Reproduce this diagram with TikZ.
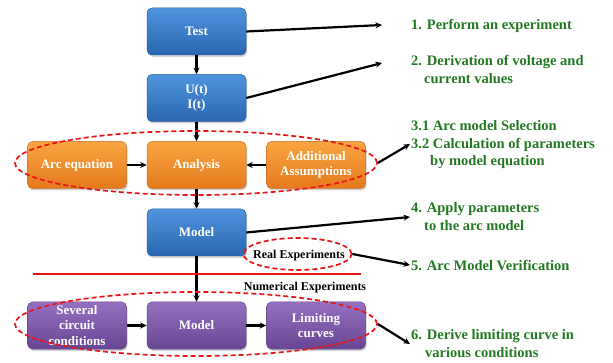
\documentclass[tikz,border=0pt]{standalone}
\usepackage{fontspec}
\setmainfont{Liberation Serif}
\usetikzlibrary{shapes.geometric,arrows.meta,shadows}
\definecolor{bluetop}{RGB}{80,148,222}
\definecolor{bluebot}{RGB}{42,102,178}
\definecolor{blueedge}{RGB}{40,90,160}
\definecolor{orangetop}{RGB}{250,165,65}
\definecolor{orangebot}{RGB}{228,122,30}
\definecolor{orangeedge}{RGB}{205,110,30}
\definecolor{purpletop}{RGB}{150,112,192}
\definecolor{purplebot}{RGB}{104,70,148}
\definecolor{purpleedge}{RGB}{95,65,135}
\definecolor{stepgreen}{RGB}{36,120,36}
\definecolor{dashred}{RGB}{235,20,20}
\begin{document}
\begin{tikzpicture}[x=1pt,y=-1pt,
  boxbase/.style={rounded corners=5pt, minimum width=99pt, minimum height=47pt,
    text=white, align=center, inner sep=2pt,
    font=\bfseries\fontsize{13}{15.5}\selectfont,
    drop shadow={opacity=0.35, shadow xshift=1pt, shadow yshift=-2pt}},
  bluebox/.style={boxbase, draw=blueedge, line width=0.5pt, top color=bluetop, bottom color=bluebot},
  orangebox/.style={boxbase, draw=orangeedge, line width=0.5pt, top color=orangetop, bottom color=orangebot},
  purplebox/.style={boxbase, draw=purpleedge, line width=0.5pt, top color=purpletop, bottom color=purplebot},
  redoval/.style={ellipse, draw=dashred, line width=1.7pt, dash pattern=on 5pt off 3pt, inner sep=0pt},
  flow/.style={line width=2.2pt, -{Stealth[length=6.5pt,width=6pt]}},
  steptext/.style={anchor=north west, inner sep=0pt, align=left, text=stepgreen,
    font=\bfseries\fontsize{14.5}{17.5}\selectfont},
  labeltext/.style={inner sep=0pt, font=\bfseries\fontsize{12}{14}\selectfont}
]
\useasboundingbox (0,0) rectangle (613,363);

% boxes
\node[bluebox] (test) at (196.5,31.5) {Test};
\node[bluebox] (ui) at (196.5,98) {U(t)\\I(t)};
\node[orangebox] (arc) at (77,165) {Arc equation};
\node[orangebox] (ana) at (196.5,165) {Analysis};
\node[orangebox] (add) at (316,165) {Additional\\Assumptions};
\node[bluebox] (model) at (196.5,232.5) {Model};
\node[purplebox] (sev) at (77,325.5) {Several\\circuit\\conditions};
\node[purplebox] (model2) at (196.5,325.5) {Model};
\node[purplebox] (lim) at (316,325.5) {Limiting\\curves};

% flow arrows
\draw[flow] (test) -- (ui);
\draw[flow] (ui) -- (ana);
\draw[flow] (arc) -- (ana);
\draw[flow] (add) -- (ana);
\draw[flow] (ana) -- (model);
\draw[flow] (model) -- (model2);
\draw[flow] (sev) -- (model2);
\draw[flow] (model2) -- (lim);

% separator
\draw[dashred, line width=2.5pt] (33,274) coordinate (sepL) -- (361,274) coordinate (sepR);

% labels
\node[labeltext] (real) at (299,256) {Real Experiments};
\node[labeltext] (num) at (305,288) {Numerical Experiments};

% ovals
\node[redoval, minimum width=362pt, minimum height=64pt] (e1) at (196,163) {};
\node[redoval, minimum width=108pt, minimum height=32pt] (e2) at (297.5,254) {};
\node[redoval, minimum width=362pt, minimum height=64pt] (e3) at (196,324) {};

% step texts
\node[steptext] (t1) at (411,19.5) {1. Perform an experiment};
\node[steptext] (t2) at (411,55.5) {2. Derivation of voltage and\\\hspace*{13pt}current values};
\node[steptext] (t3) at (411,120.5) {3.1 Arc model Selection\\3.2 Calculation of parameters\\\hspace*{19pt}by model equation};
\node[steptext] (t4) at (411,202.5) {4. Apply parameters\\\hspace*{13pt}to the arc model};
\node[steptext] (t5) at (411,260.5) {5. Arc Model Verification};
\node[steptext] (t6) at (411,329.5) {6. Derive limiting curve in\\\hspace*{14pt}various conditions};

% arrow ends
\coordinate (p1) at (382,25);
\coordinate (p2) at (382,63);
\coordinate (p3) at (410,144);
\coordinate (p4) at (410,217);
\coordinate (p5) at (410,265);
\coordinate (p6) at (410,344);

\draw[flow] (test.east) -- (p1);
\draw[flow] (ui.east) -- (p2);
\draw[flow] (e1.east) -- (p3);
\draw[flow] (model.east) -- (p4);
\draw[flow] (e2.east) -- (p5);
\draw[flow] (e3.east) -- (p6);
\end{tikzpicture}
\end{document}
